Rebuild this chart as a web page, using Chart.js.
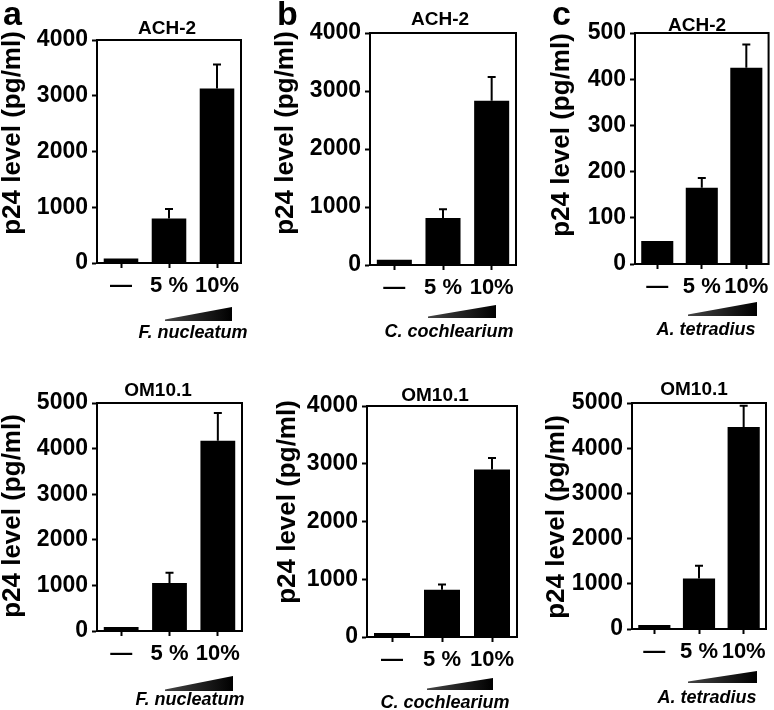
<!DOCTYPE html>
<html>
<head>
<meta charset="utf-8">
<script src="https://cdn.jsdelivr.net/npm/chart.js@4.4.1/dist/chart.umd.min.js"></script>
<style>
html, body { margin: 0; padding: 0; background: #fff; }
#stage { position: relative; width: 774px; height: 710px; overflow: hidden; }
#stage canvas { position: absolute; }
</style>
</head>
<body>
<div id="stage"></div>
<script>
// categories (extract dose)
const doseLabels = ["—", "5 %", "10%"];

// ACH-2 cells, p24 (pg/ml)
const achFnValues = [80, 800, 3130];
const achFnErrors = [0, 170, 430];
const achCcValues = [90, 810, 2830];
const achCcErrors = [0, 150, 410];
const achAtValues = [50, 165, 425];
const achAtErrors = [0, 21, 50];

// OM10.1 cells, p24 (pg/ml)
const omFnValues = [90, 1050, 4170];
const omFnErrors = [0, 230, 610];
const omCcValues = [70, 820, 2900];
const omCcErrors = [0, 90, 200];
const omAtValues = [90, 1120, 4470];
const omAtErrors = [0, 280, 470];

const FONT = '"Liberation Sans", Arial, Helvetica, sans-serif';
Chart.defaults.font.family = FONT;
Chart.defaults.color = "#000";

// page coordinates for each panel: box = canvas rect, plot = chart area
const PANELS = [
    { box: [0, 0, 258, 350], plot: [97, 40, 241, 263], yMax: 4000, yStep: 1000,
      cell: "ACH-2", titleAt: [167, 29], yTitleAt: [13, 133], letter: "a", letterAt: [3, 25],
      wedge: [165, 232, 307, 321], species: "F. nucleatum", speciesAt: [193, 333],
      values: achFnValues, errors: achFnErrors },
    { box: [258, 0, 522, 350], plot: [370, 33, 516, 265], yMax: 4000, yStep: 1000,
      cell: "ACH-2", titleAt: [440, 20], yTitleAt: [286, 133], letter: "b", letterAt: [277, 25],
      wedge: [428, 496, 305, 318], species: "C. cochlearium", speciesAt: [449, 332],
      values: achCcValues, errors: achCcErrors },
    { box: [522, 0, 774, 350], plot: [635, 33, 770, 264], yMax: 500, yStep: 100,
      cell: "ACH-2", titleAt: [697, 26], yTitleAt: [562, 135], letter: "c", letterAt: [552, 25],
      wedge: [688, 757, 302, 316], species: "A. tetradius", speciesAt: [706, 330],
      values: achAtValues, errors: achAtErrors },
    { box: [0, 350, 258, 710], plot: [97, 403, 242, 631], yMax: 5000, yStep: 1000,
      cell: "OM10.1", titleAt: [158, 391], yTitleAt: [13, 516],
      wedge: [165, 233, 676, 691], species: "F. nucleatum", speciesAt: [190, 700],
      values: omFnValues, errors: omFnErrors },
    { box: [258, 350, 522, 710], plot: [367, 406, 517, 637], yMax: 4000, yStep: 1000,
      cell: "OM10.1", titleAt: [435, 396], yTitleAt: [288, 502],
      wedge: [427, 493, 678, 690], species: "C. cochlearium", speciesAt: [445, 703],
      values: omCcValues, errors: omCcErrors },
    { box: [522, 350, 774, 710], plot: [632, 403, 766, 629], yMax: 5000, yStep: 1000,
      cell: "OM10.1", titleAt: [694, 390], yTitleAt: [557, 517],
      wedge: [688, 757, 671, 683], species: "A. tetradius", speciesAt: [707, 698],
      values: omAtValues, errors: omAtErrors },
];

const decorPlugin = {
    id: "decor",
    afterDatasetsDraw(chart) {
        const p = chart.options.plugins.decor;
        const ctx = chart.ctx;
        const y = chart.scales.y;
        const meta = chart.getDatasetMeta(0);
        ctx.save();
        ctx.strokeStyle = "#000";
        ctx.lineWidth = 2;
        meta.data.forEach((bar, i) => {
            const err = p.errors[i];
            if (!err) return;
            const top = y.getPixelForValue(p.values[i] + err);
            ctx.beginPath();
            ctx.moveTo(bar.x, bar.y);
            ctx.lineTo(bar.x, top);
            ctx.moveTo(bar.x - 4, top);
            ctx.lineTo(bar.x + 4, top);
            ctx.stroke();
        });
        ctx.restore();
    },
    afterDraw(chart) {
        const p = chart.options.plugins.decor;
        const ctx = chart.ctx;
        const a = chart.chartArea;
        const ox = p.box[0], oy = p.box[1];
        ctx.save();

        // box frame
        ctx.strokeStyle = "#000";
        ctx.lineWidth = 2;
        ctx.strokeRect(a.left, a.top, a.right - a.left, a.bottom - a.top);

        ctx.fillStyle = "#000";

        // cell line title
        ctx.font = "bold 19px " + FONT;
        ctx.textAlign = "center";
        ctx.textBaseline = "middle";
        ctx.fillText(p.cell, p.titleAt[0] - ox, p.titleAt[1] - oy);

        // y title
        ctx.save();
        ctx.translate(p.yTitleAt[0] - ox, p.yTitleAt[1] - oy);
        ctx.rotate(-Math.PI / 2);
        ctx.font = "bold 26px " + FONT;
        ctx.fillText("p24 level (pg/ml)", 0, 0);
        ctx.restore();

        // panel letter
        if (p.letter) {
            ctx.font = "bold 34px " + FONT;
            ctx.textAlign = "left";
            ctx.textBaseline = "alphabetic";
            ctx.fillText(p.letter, p.letterAt[0] - ox, p.letterAt[1] - oy);
        }

        // dose wedge
        const [x0, x1, yt, yb] = p.wedge;
        const g = ctx.createLinearGradient(x0 - ox, 0, x1 - ox, 0);
        g.addColorStop(0, "#444");
        g.addColorStop(1, "#000");
        ctx.fillStyle = g;
        ctx.beginPath();
        ctx.moveTo(x0 - ox, yb - oy - 1.5);
        ctx.lineTo(x1 - ox, yt - oy);
        ctx.lineTo(x1 - ox, yb - oy);
        ctx.lineTo(x0 - ox, yb - oy);
        ctx.closePath();
        ctx.fill();

        // species
        ctx.fillStyle = "#000";
        ctx.font = "italic bold 18px " + FONT;
        ctx.textAlign = "center";
        ctx.textBaseline = "middle";
        ctx.fillText(p.species, p.speciesAt[0] - ox, p.speciesAt[1] - oy);

        ctx.restore();
    },
};

function makePanel(p) {
    const canvas = document.createElement("canvas");
    const w = p.box[2] - p.box[0];
    const h = p.box[3] - p.box[1];
    canvas.width = w;
    canvas.height = h;
    canvas.style.left = p.box[0] + "px";
    canvas.style.top = p.box[1] + "px";
    canvas.style.width = w + "px";
    canvas.style.height = h + "px";
    document.getElementById("stage").appendChild(canvas);

    const yWidth = p.plot[0] - p.box[0];
    const xHeight = p.box[3] - p.plot[3];

    return new Chart(canvas, {
        type: "bar",
        data: {
            labels: doseLabels,
            datasets: [{
                data: p.values,
                backgroundColor: "#000",
                borderWidth: 0,
                categoryPercentage: 1,
                barPercentage: 0.72,
            }],
        },
        options: {
            responsive: false,
            animation: false,
            layout: {
                padding: {
                    left: 0,
                    top: p.plot[1] - p.box[1],
                    right: p.box[2] - p.plot[2],
                    bottom: 0,
                },
            },
            plugins: {
                legend: { display: false },
                tooltip: { enabled: false },
                title: { display: false },
                decor: p,
            },
            scales: {
                x: {
                    type: "category",
                    grid: {
                        offset: false,
                        drawOnChartArea: false,
                        drawTicks: true,
                        tickLength: 5,
                        tickWidth: 2,
                        tickColor: "#000",
                        color: "#000",
                    },
                    border: { display: true, color: "#000", width: 2 },
                    ticks: {
                        font: { size: 22, weight: "bold" },
                        color: "#000",
                        padding: 5,
                        autoSkip: false,
                        maxRotation: 0,
                    },
                    afterFit: (scale) => { scale.height = xHeight; },
                },
                y: {
                    min: 0,
                    max: p.yMax,
                    grid: {
                        drawOnChartArea: false,
                        drawTicks: true,
                        tickLength: 5,
                        tickWidth: 2,
                        tickColor: "#000",
                        color: "#000",
                    },
                    border: { display: true, color: "#000", width: 2 },
                    ticks: {
                        stepSize: p.yStep,
                        font: { size: 23, weight: "bold" },
                        color: "#000",
                        padding: 4,
                        callback: (v) => String(v),
                    },
                    afterFit: (scale) => { scale.width = yWidth; },
                },
            },
        },
        plugins: [decorPlugin],
    });
}

PANELS.forEach(makePanel);
</script>
</body>
</html>
